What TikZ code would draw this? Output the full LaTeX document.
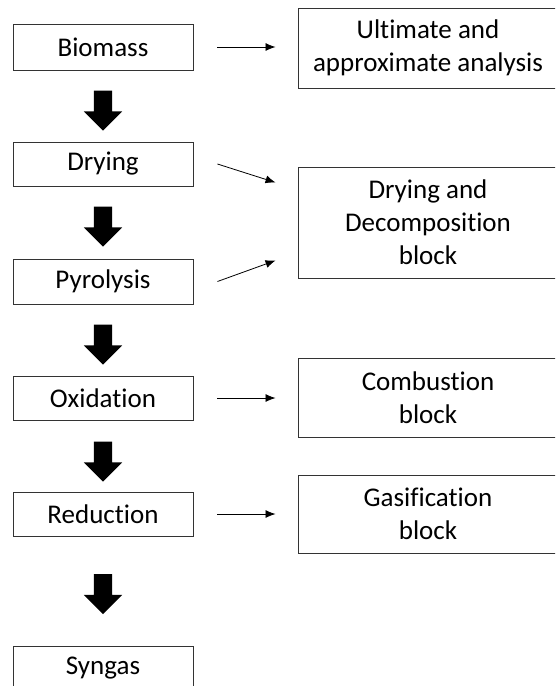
\documentclass[tikz,border=0pt]{standalone}
\usepackage{fontspec}
\setmainfont{Carlito}[Ligatures={NoCommon,NoContextual}]
\usetikzlibrary{arrows.meta,shapes.arrows}

\tikzset{
	stagebox/.style={draw=black!80, line width=0.9pt, minimum width=180pt, minimum height=45pt, inner sep=0pt, font=\fontsize{27}{33}\selectfont},
	blockbox/.style={stagebox, minimum width=260pt, align=center},
	fatarrow/.style={single arrow, fill=black, draw=none, rotate=-90, inner sep=9pt, minimum height=40pt, single arrow head extend=10pt},
	thinarrow/.style={-{Latex[length=10pt,width=8pt]}, line width=0.8pt}
}

\begin{document}
\begin{tikzpicture}[x=1pt,y=-1pt]
	\useasboundingbox (0,0) rectangle (555,686);
	\clip (0,0) rectangle (555,686);

	% process stages
	\node[stagebox, minimum height=46pt] (biomass) at (103,47) {Biomass};
	\node[stagebox, minimum height=44pt] (drying) at (103,164) {Drying};
	\node[stagebox] (pyrolysis) at (103,281.5) {Pyrolysis};
	\node[stagebox, minimum height=44pt] (oxidation) at (103,398) {Oxidation};
	\node[stagebox, minimum height=44pt] (reduction) at (103,514) {Reduction};
	\node[stagebox, minimum height=44pt] (syngas) at (103,668) {Syngas};

	\node[fatarrow] (a1) at (103,106) {};
	\node[fatarrow] (a2) at (103,222) {};
	\node[fatarrow] (a3) at (103,340) {};
	\node[fatarrow] (a4) at (103,457) {};
	\node[fatarrow] (a5) at (103,589.5) {};

	% model blocks
	\node[blockbox, minimum height=80pt] (analysis) at (428,48) {Ultimate and\\approximate analysis};
	\node[blockbox, minimum height=111pt] (decomp) at (428,222.5) {Drying and\\Decomposition\\block};
	\node[blockbox, minimum height=79pt] (combustion) at (428,397.5) {Combustion\\block};
	\node[blockbox, minimum height=78pt] (gasification) at (428,514) {Gasification\\block};

	\draw[thinarrow] ([xshift=24pt]biomass.east) -- ([xshift=-22pt]analysis.west |- biomass.east);
	\draw[thinarrow] ([xshift=24pt]drying.east) -- ([xshift=-22pt,yshift=40pt]decomp.west);
	\draw[thinarrow] ([xshift=24pt]pyrolysis.east) -- ([xshift=-22pt,yshift=-38pt]decomp.west);
	\draw[thinarrow] ([xshift=24pt]oxidation.east) -- ([xshift=-22pt]combustion.west |- oxidation.east);
	\draw[thinarrow] ([xshift=24pt]reduction.east) -- ([xshift=-22pt]gasification.west |- reduction.east);
\end{tikzpicture}
\end{document}
